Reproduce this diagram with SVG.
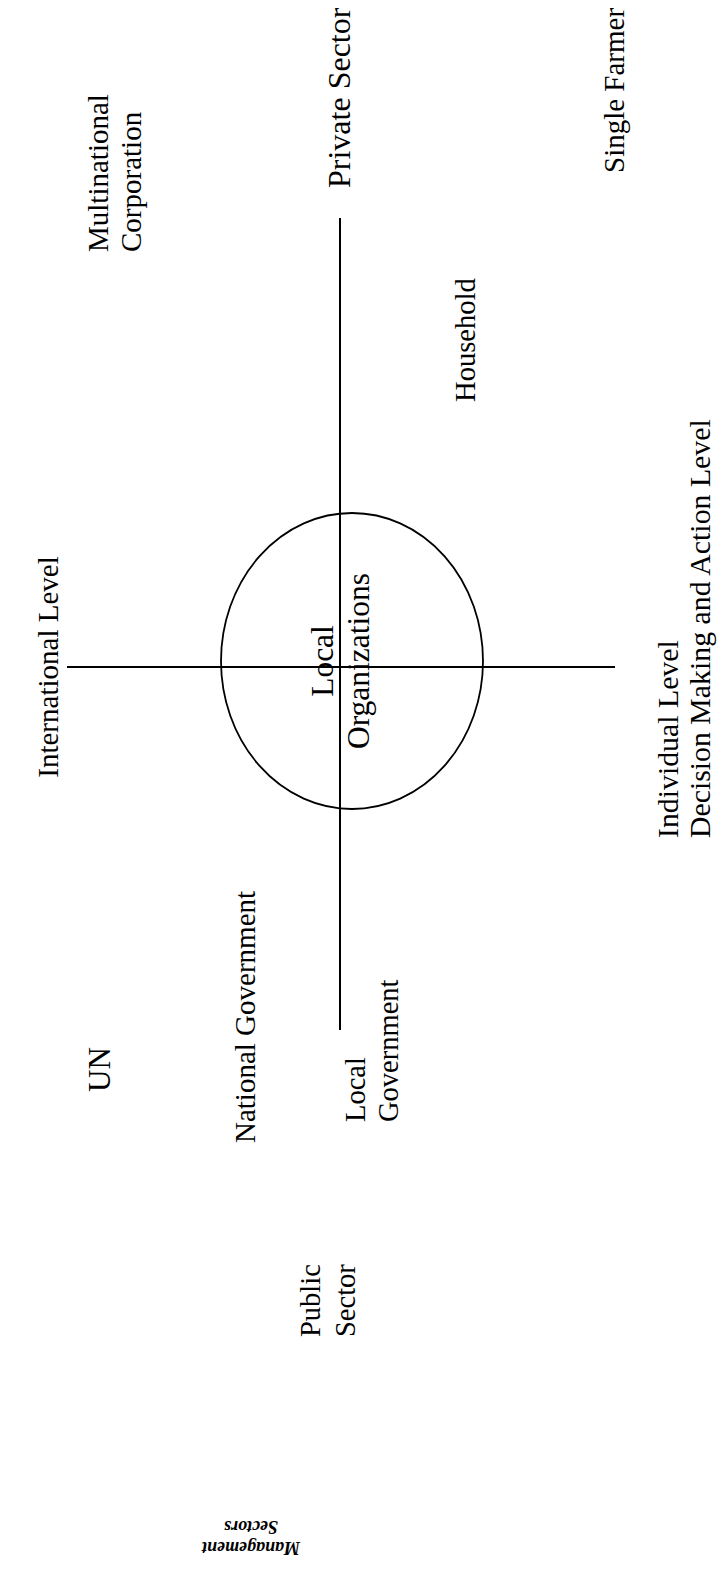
<svg xmlns="http://www.w3.org/2000/svg" width="718" height="1574" viewBox="0 0 718 1574">
<style>
text{font-family:"Liberation Serif","Times New Roman",serif;fill:#000}
.ln{stroke:#000;stroke-width:2;fill:none}
.el{stroke:#000;stroke-width:1.8;fill:none}
.t{font-size:29px}
.title{font-size:18px;font-weight:bold;font-style:italic}
</style>
<rect width="718" height="1574" fill="#fff"/>
<g id="connectors">
<line class="ln" x1="67" y1="667" x2="615" y2="667"/>
<line class="ln" x1="340" y1="218" x2="340" y2="1030"/>
</g>
<g id="local-organizations">
<ellipse class="el" cx="352" cy="661" rx="131" ry="148"/>
<text class="t" style="font-size:31.5px" text-anchor="middle" transform="translate(333,661) rotate(-90)">Local</text>
<text class="t" style="font-size:31.5px" text-anchor="middle" transform="translate(369,661) rotate(-90)">Organizations</text>
</g>
<g id="private-sector">
<text class="t" style="font-size:32px" transform="translate(350,188) rotate(-90)">Private Sector</text>
</g>
<g id="multinational-corporation">
<text class="t" transform="translate(108,252) rotate(-90)">Multinational</text>
<text class="t" transform="translate(141,252) rotate(-90)">Corporation</text>
</g>
<g id="single-farmer">
<text class="t" transform="translate(624,173) rotate(-90)">Single Farmer</text>
</g>
<g id="household">
<text class="t" style="font-size:28.6px" transform="translate(475,402) rotate(-90)">Household</text>
</g>
<g id="international-level">
<text class="t" text-anchor="middle" transform="translate(58,667) rotate(-90)">International Level</text>
</g>
<g id="individual-level">
<text class="t" style="font-size:29.8px" transform="translate(678,838) rotate(-90)">Individual Level</text>
<text class="t" style="font-size:29.8px" transform="translate(710,838) rotate(-90)">Decision Making and Action Level</text>
</g>
<g id="un">
<text class="t" style="font-size:31px" transform="translate(110,1092) rotate(-90)">UN</text>
</g>
<g id="national-government">
<text class="t" transform="translate(255,1143) rotate(-90)">National Government</text>
</g>
<g id="local-government">
<text class="t" style="font-size:28.5px" transform="translate(365,1122) rotate(-90)">Local</text>
<text class="t" style="font-size:28.5px" transform="translate(398,1122) rotate(-90)">Government</text>
</g>
<g id="public-sector">
<text class="t" style="font-size:28.5px" transform="translate(320,1337) rotate(-90)">Public</text>
<text class="t" style="font-size:28.5px" transform="translate(355,1337) rotate(-90)">Sector</text>
</g>
<g id="management-sectors">
<text class="title" text-anchor="middle" transform="translate(251,1542) rotate(180)">Management</text>
<text class="title" text-anchor="middle" transform="translate(251,1521) rotate(180)">Sectors</text>
</g>
</svg>
